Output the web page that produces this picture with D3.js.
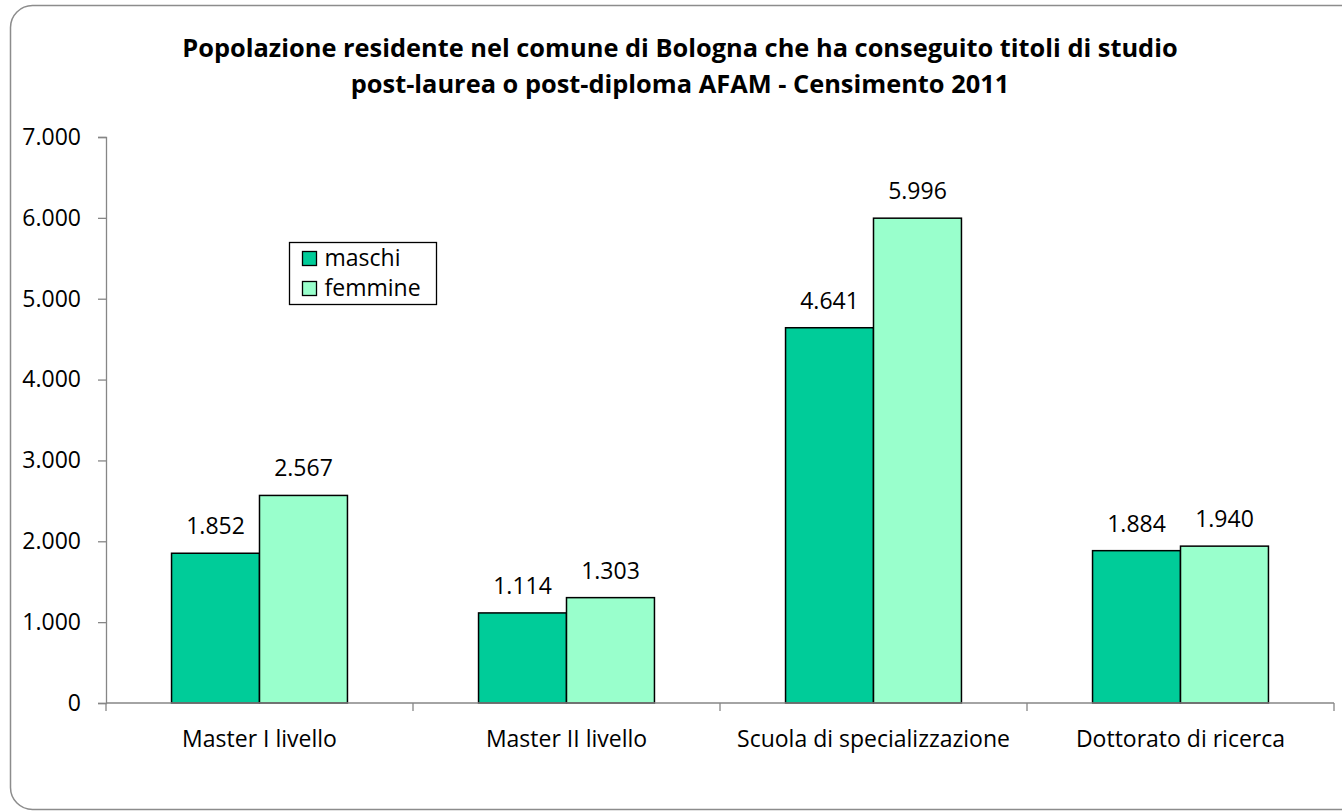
<!DOCTYPE html>
<html>
<head>
<meta charset="utf-8">
<script src="https://cdn.jsdelivr.net/npm/d3@7"></script>
<style>
  body { margin: 0; background: #fff; }
  svg { display: block; font-family: "Open Sans", "Noto Sans", sans-serif; }
</style>
</head>
<body>
<script>
"use strict"

const categories = ['Master I livello', 'Master II livello', 'Scuola di specializzazione', 'Dottorato di ricerca']
const series = ['maschi', 'femmine']
const maschi = [1852, 1114, 4641, 1884]
const femmine = [2567, 1303, 5996, 1940]
const y_ticks = [0, 1000, 2000, 3000, 4000, 5000, 6000, 7000]
const title_lines = [
   'Popolazione residente nel comune di Bologna che ha conseguito titoli di studio',
   'post-laurea o post-diploma AFAM - Censimento 2011'
]
const colors = ['#00cc99', '#99ffcc']

const w = 1342
const h = 812
const plot_left = 106, plot_right = 1334, plot_top = 137, plot_bottom = 703
const label_size = 23

const it = d3.formatLocale({decimal: ',', thousands: '.', grouping: [3], currency: ['€', '']})
const fmt = it.format(',d')

const svg = d3.select('body')
   .append('svg')
      .attr('width', w)
      .attr('height', h)

// outer frame, right side runs off the picture
svg.append('rect')
   .attr('x', 10.5)
   .attr('y', 5.5)
   .attr('width', w + 20)
   .attr('height', 804)
   .attr('rx', 22)
   .attr('fill', '#fff')
   .attr('stroke', '#8c8c8c')
   .attr('stroke-width', 1.5)

svg.append('g')
   .selectAll('text')
   .data(title_lines)
   .enter()
   .append('text')
      .attr('x', 680)
      .attr('y', (d, i) => 57 + i * 36)
      .attr('text-anchor', 'middle')
      .attr('font-size', 25.4)
      .attr('font-weight', 'bold')
      .attr('fill', '#000')
      .text(d => d)

const x_scale = d3.scaleBand(categories, [plot_left, plot_right])
   .paddingInner(0.427)
   .paddingOuter(0.2135)
const x_sub = d3.scaleBand(series, [0, x_scale.bandwidth()])
const y_scale = d3.scaleLinear([0, 7000], [plot_bottom, plot_top])

// y axis
const y_axis = d3.axisLeft(y_scale)
   .tickValues(y_ticks)
   .tickSize(8)
   .tickPadding(17)
   .tickFormat(fmt)

svg.append('g')
   .attr('transform', `translate(${plot_left}, 0)`)
   .call(y_axis)
   .call(g => g.select('.domain').attr('stroke', '#868686').attr('stroke-width', 1.3))
   .call(g => g.selectAll('.tick line').attr('stroke', '#868686').attr('stroke-width', 1.3))
   .call(g => g.selectAll('.tick text')
      .attr('font-size', label_size)
      .attr('font-family', '"Open Sans", sans-serif')
      .attr('fill', '#000'))

// bars
const groups = svg.append('g')
   .selectAll('g')
   .data(categories)
   .enter()
   .append('g')
      .attr('transform', d => `translate(${x_scale(d)}, 0)`)

const rows = (d, i) => [
   {s: 'maschi', v: maschi[i], c: colors[0]},
   {s: 'femmine', v: femmine[i], c: colors[1]}
]

groups.selectAll('rect')
   .data(rows)
   .enter()
   .append('rect')
      .attr('x', d => x_sub(d.s))
      .attr('y', d => y_scale(d.v))
      .attr('width', x_sub.bandwidth())
      .attr('height', d => plot_bottom - y_scale(d.v))
      .attr('fill', d => d.c)
      .attr('stroke', '#000')
      .attr('stroke-width', 1.5)

groups.selectAll('text')
   .data(rows)
   .enter()
   .append('text')
      .attr('x', d => x_sub(d.s) + x_sub.bandwidth() / 2)
      .attr('y', d => y_scale(d.v) - 19)
      .attr('text-anchor', 'middle')
      .attr('font-size', label_size)
      .attr('fill', '#000')
      .text(d => fmt(d.v))

// x axis: baseline with ticks at category boundaries
const bounds = categories.map(c => x_scale(c) - x_scale.step() * x_scale.paddingInner() / 2)
bounds.push(plot_right)

const xg = svg.append('g')
xg.append('line')
   .attr('x1', plot_left)
   .attr('x2', plot_right)
   .attr('y1', plot_bottom)
   .attr('y2', plot_bottom)
   .attr('stroke', '#868686')
   .attr('stroke-width', 1.3)
xg.selectAll('line.tk')
   .data(bounds)
   .enter()
   .append('line')
      .attr('class', 'tk')
      .attr('x1', d => d)
      .attr('x2', d => d)
      .attr('y1', plot_bottom)
      .attr('y2', plot_bottom + 8)
      .attr('stroke', '#868686')
      .attr('stroke-width', 1.3)
xg.selectAll('text')
   .data(categories)
   .enter()
   .append('text')
      .attr('x', d => x_scale(d) + x_scale.bandwidth() / 2)
      .attr('y', 747)
      .attr('text-anchor', 'middle')
      .attr('font-size', label_size)
      .attr('fill', '#000')
      .text(d => d)

// legend
const legend = svg.append('g')
   .attr('transform', 'translate(289.5, 242.5)')
legend.append('rect')
   .attr('width', 147)
   .attr('height', 62)
   .attr('fill', '#fff')
   .attr('stroke', '#000')
   .attr('stroke-width', 1.3)
const items = legend.selectAll('g')
   .data(series)
   .enter()
   .append('g')
      .attr('transform', (d, i) => `translate(13, ${9 + i * 30})`)
items.append('rect')
   .attr('width', 14)
   .attr('height', 14)
   .attr('fill', (d, i) => colors[i])
   .attr('stroke', '#000')
   .attr('stroke-width', 1.3)
items.append('text')
   .attr('x', 22)
   .attr('y', 14)
   .attr('font-size', label_size)
   .attr('fill', '#000')
   .text(d => d)
</script>
</body>
</html>
